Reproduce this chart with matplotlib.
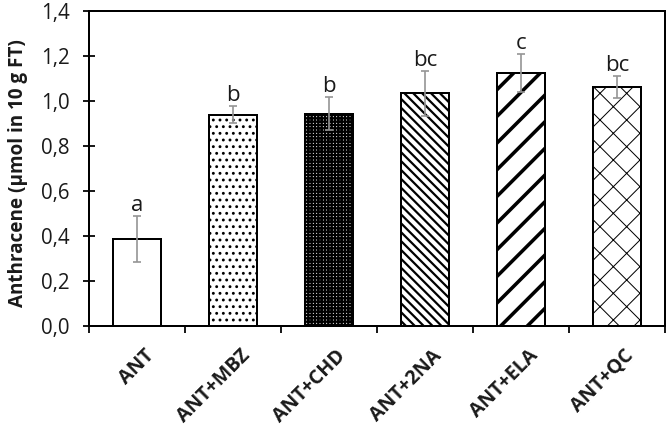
import matplotlib
matplotlib.use('Agg')
import matplotlib.pyplot as plt
import matplotlib.transforms as mtransforms
from matplotlib.ticker import FuncFormatter, FixedLocator
import numpy as np

plt.rcParams['font.family'] = ['Open Sans', 'DejaVu Sans']

# values
categories = ['ANT', 'ANT+MBZ', 'ANT+CHD', 'ANT+2NA', 'ANT+ELA', 'ANT+QC']
means = [0.387, 0.940, 0.944, 1.035, 1.124, 1.062]
errors = [0.103, 0.036, 0.072, 0.100, 0.085, 0.050]
letters = ['a', 'b', 'b', 'bc', 'c', 'bc']
y_ticks = [0.0, 0.2, 0.4, 0.6, 0.8, 1.0, 1.2, 1.4]

# bar styles
hatches = ['', '..', '++++', '\\\\\\', '/', 'x']
hatch_widths = [1.0, 1.4, 2.0, 2.0, 3.2, 0.9]

fig = plt.figure(figsize=(8.35, 5.35), dpi=80)
ax = fig.add_axes([89 / 668, 1 - 326 / 428, 576 / 668, 315 / 428])

x = np.arange(len(categories))
for i in range(len(categories)):
    with plt.rc_context({'hatch.linewidth': hatch_widths[i], 'hatch.color': 'black'}):
        bar = ax.bar(x[i], means[i], width=0.51, color='white', edgecolor='black',
                     linewidth=1.8, hatch=hatches[i], zorder=2)
    for p in bar.patches:
        if hasattr(p, 'set_hatch_linewidth'):
            p.set_hatch_linewidth(hatch_widths[i])

ax.errorbar(x, means, yerr=errors, fmt='none', ecolor='#959595', elinewidth=1.5,
            capsize=4, capthick=1.5, zorder=3)

for i in range(len(categories)):
    ax.annotate(letters[i], (x[i], means[i] + errors[i]), xytext=(0, 4.5),
                textcoords='offset points', ha='center', va='baseline',
                fontsize=20, color='#1a1a1a')

ax.set_xlim(-0.5, len(categories) - 0.5)
ax.set_ylim(0, 1.4)
ax.set_yticks(y_ticks)
ax.yaxis.set_major_formatter(FuncFormatter(lambda v, pos: f'{v:.1f}'.replace('.', ',')))
ax.tick_params(axis='y', direction='inout', length=10.8, width=1.6, pad=12,
               labelsize=18.5, labelcolor='#1a1a1a')

ax.set_xticks(x)
ax.set_xticklabels(categories, rotation=45, ha='right', rotation_mode='anchor',
                   fontsize=17.5, fontweight='bold', color='#1a1a1a')
ax.xaxis.set_minor_locator(FixedLocator(np.arange(-0.5, len(categories), 1.0)))
ax.tick_params(axis='x', which='major', length=0, pad=18)
ax.tick_params(axis='x', which='minor', direction='out', length=6.3, width=1.6)
shift = mtransforms.ScaledTranslation(7 / 80, 0, fig.dpi_scale_trans)
for lab in ax.get_xticklabels():
    lab.set_transform(lab.get_transform() + shift)

for s in ax.spines.values():
    s.set_linewidth(1.8)
    s.set_zorder(4)

ax.set_ylabel('Anthracene (µmol in 10 g FT)', fontsize=17, fontweight='bold',
              color='#1a1a1a')
ax.yaxis.set_label_coords(-0.106, 0.486)

fig.savefig('out.png', dpi=80)
